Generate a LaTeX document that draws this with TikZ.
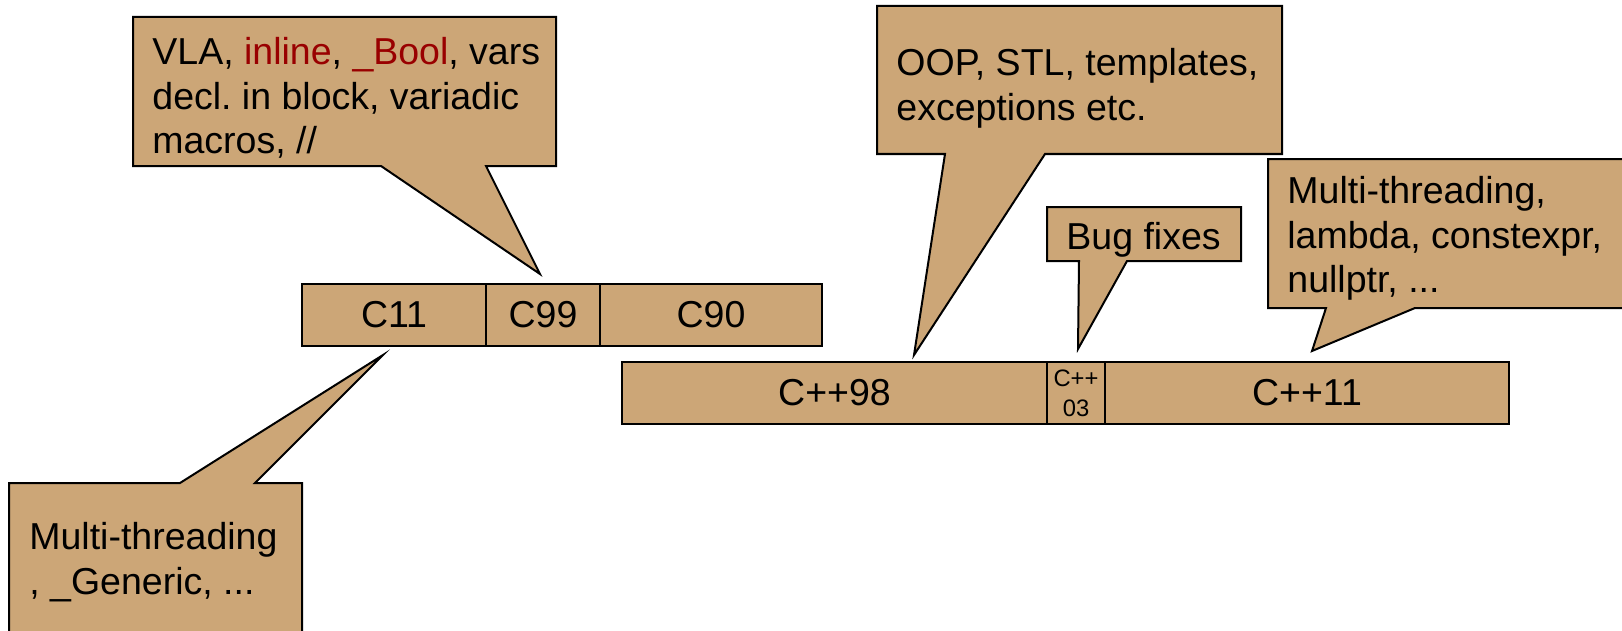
\documentclass[tikz,border=0pt]{standalone}
\usepackage{fontspec}
\setmainfont{Liberation Sans}
\usepackage{tikz}
\usetikzlibrary{positioning}
\definecolor{boxtan}{RGB}{204,166,119}
\definecolor{keyred}{RGB}{153,0,0}
\frenchspacing

\begin{document}
\begin{tikzpicture}[x=0.5pt,y=-0.5pt,
  ver/.style={draw,fill=boxtan,line width=1pt,minimum height=31pt,inner sep=0pt,outer sep=0pt,font=\fontsize{18.75pt}{22.3pt}\selectfont},
  bubble/.style={draw,fill=boxtan,line width=1pt,line join=miter},
  note/.style={anchor=north west,inner sep=0pt,align=left,font=\fontsize{18.75pt}{22.3pt}\selectfont}]
\useasboundingbox (0,0) rectangle (1622,631);
\clip (0,0) rectangle (1622,631);
\node[ver,anchor=north west,minimum width=92pt] (c11) at (302,284) {C11};
\node[ver,right=0pt of c11,minimum width=57pt] (c99) {C99};
\node[ver,right=0pt of c99,minimum width=111pt] (c90) {C90};
\node[ver,anchor=north west,minimum width=212.5pt] (cpp98) at (622,362) {C++98};
\node[ver,right=0pt of cpp98,minimum width=29pt,align=center,font=\fontsize{11.9pt}{15pt}\selectfont] (cpp03) {C++\\03};
\node[ver,right=0pt of cpp03,minimum width=202pt] (cpp11) {C++11};
\coordinate (tipc99) at (540,274);
\coordinate (tipc11) at (383,355);
\coordinate (tipcpp98) at (914,355);
\coordinate (tipcpp03) at (1078,349);
\coordinate (tipcpp11) at (1312,351);
\filldraw[bubble] (133,17) -- (556,17) -- (556,166) -- (486,166) -- (tipc99) -- (381,166) -- (133,166) -- cycle;
\filldraw[bubble] (9,650) -- (9,483) -- (180,483) -- (tipc11) -- (255,483) -- (302,483) -- (302,650) -- cycle;
\filldraw[bubble] (877,6) -- (1282,6) -- (1282,154) -- (1045,154) -- (tipcpp98) -- (945,154) -- (877,154) -- cycle;
\filldraw[bubble] (1047,207) -- (1241,207) -- (1241,261) -- (1127,261) -- (tipcpp03) -- (1079,261) -- (1047,261) -- cycle;
\filldraw[bubble] (1268,159) -- (1640,159) -- (1640,308) -- (1415,308) -- (tipcpp11) -- (1326,308) -- (1268,308) -- cycle;
\node[note] (newc99) at (152,37) {VLA, \textcolor{keyred}{inline}, \textcolor{keyred}{\_Bool}, vars\\decl. in block, variadic\\macros, //};
\node[note] (newc11) at (29,522) {Multi-threading\\, \_Generic, ...};
\node[note] (newcpp98) at (896,48) {OOP, STL, templates,\\exceptions etc.};
\node[note] (newcpp03) at (1066,222) {Bug fixes};
\node[note] (newcpp11) at (1287,176) {Multi-threading,\\lambda, constexpr,\\nullptr, ...};
\end{tikzpicture}
\end{document}
